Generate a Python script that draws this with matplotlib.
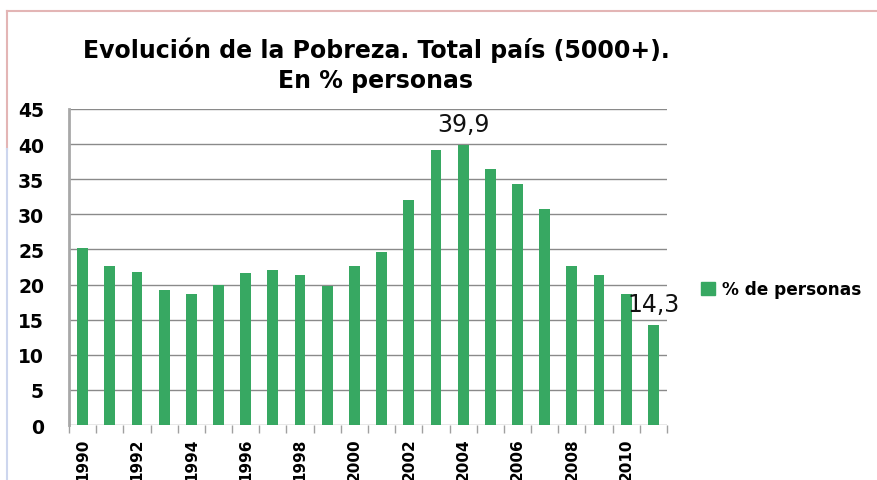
import numpy as np
import matplotlib.pyplot as plt
from matplotlib.patches import Rectangle
from matplotlib.lines import Line2D

years = list(range(1990, 2012))
pobreza = [25.2, 22.6, 21.8, 19.2, 18.6, 19.9, 21.7, 22.1, 21.4, 19.8, 22.6,
           24.6, 32.1, 39.2, 39.9, 36.5, 34.3, 30.8, 22.6, 21.4, 18.6, 14.3]
labelled = {2004: "39,9", 2011: "14,3"}
title = "Evolución de la Pobreza. Total país (5000+).\nEn % personas"
serie = "% de personas"

green = "#37A862"
W, H = 877, 481

fig = plt.figure(figsize=(W / 100, H / 100), dpi=100)
ax = fig.add_axes([69 / W, 1 - 426 / H, (667 - 69) / W, (426 - 110) / H])

x = np.arange(len(years))
ax.bar(x, pobreza, width=0.4, color=green, zorder=3, label=serie)

ax.set_xlim(-0.5, len(years) - 0.5)
ax.set_ylim(0, 45)
ax.set_yticks(range(0, 46, 5))
ax.yaxis.grid(True, color="#8a8a8a", linewidth=1, zorder=0)
ax.tick_params(axis="y", length=0, pad=18, labelsize=13.5)
for t in ax.get_yticklabels():
    t.set_fontweight("bold")

ax.set_xticks(x[::2])
ax.set_xticklabels([str(y) for y in years[::2]], rotation=90, fontsize=11,
                   fontweight="bold")
ax.set_xticks(np.arange(-0.5, len(years)), minor=True)
ax.tick_params(axis="x", which="major", length=0, pad=9)
ax.tick_params(axis="x", which="minor", length=6, color="#a0a0a0", width=1)

for s in ["top", "right", "bottom"]:
    ax.spines[s].set_visible(False)
ax.spines["left"].set_color("#a8a8a8")
ax.spines["left"].set_linewidth(2)

for i, y in enumerate(years):
    if y in labelled:
        ax.annotate(labelled[y], (i, pobreza[i]), xytext=(0, 15),
                    textcoords="offset points", ha="center", va="center",
                    fontsize=17, color="#111111")

fig.text(376 / W, 1 - 65 / H, title, ha="center", va="center", fontsize=17,
         fontweight="bold", linespacing=1.3)

handle = Rectangle((0, 0), 1, 1, color=green)
fig.legend([handle], [serie], loc="center left",
           bbox_to_anchor=(686 / W, 1 - 290 / H), frameon=False,
           prop={"weight": "bold", "size": 12.2}, handlelength=0.8,
           handleheight=0.8, handletextpad=0.4)

# outer frame of the chart area
fig.add_artist(Line2D([7 / W, 1], [1 - 12 / H, 1 - 12 / H],
                      transform=fig.transFigure, color="#e3b5b5", lw=1.5))
fig.add_artist(Line2D([7 / W, 7 / W], [1 - 12 / H, 1 - 150 / H],
                      transform=fig.transFigure, color="#e3b5b5", lw=1.5))
fig.add_artist(Line2D([7 / W, 7 / W], [1 - 150 / H, 0],
                      transform=fig.transFigure, color="#cdd6ee", lw=1.5))

fig.savefig("out.png", dpi=100)
